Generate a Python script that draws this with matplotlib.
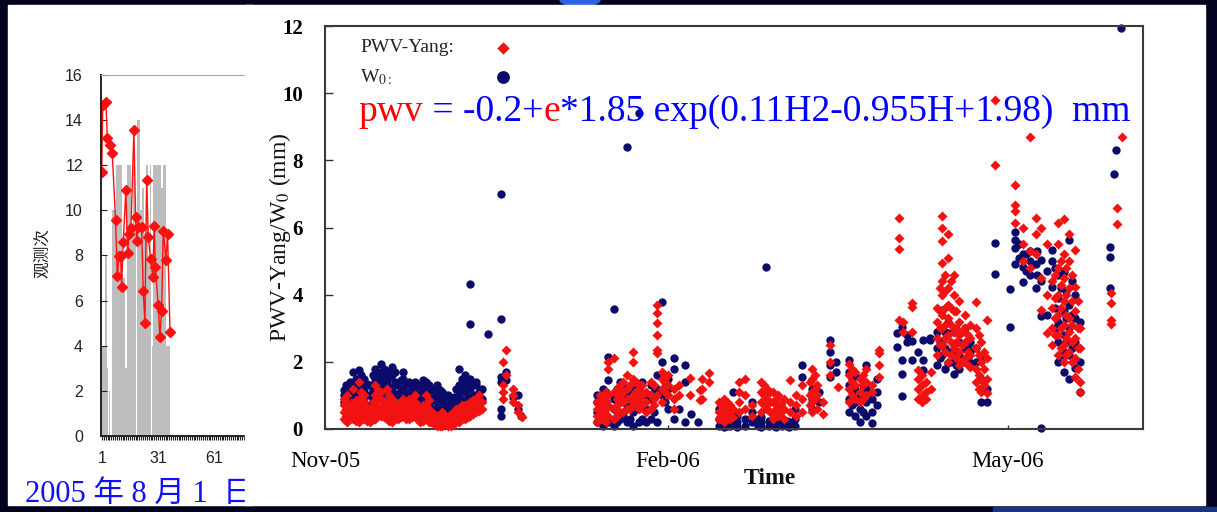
import matplotlib
matplotlib.use("Agg")
import matplotlib.pyplot as plt
from matplotlib.patches import Rectangle, Ellipse

plt.rcParams["mathtext.fontset"] = "stix"

# ---- left chart: daily observation counts + red series ----
obs_days = list(range(1, 38))
obs_counts = [4, 4, 8, 3, 2, 0, 10, 10, 12, 12, 12, 7, 7, 3, 12, 12, 9, 12, 9, 14,
              14, 10, 11, 9, 12, 8, 12, 4, 12, 12, 12, 12, 11, 12, 12, 4, 4]
red_days = [0.9, 1.4, 3.1, 3.9, 5.3, 6.5, 8.3, 9.2, 10.1, 11.0, 11.5, 12.4, 13.8, 14.7,
            15.6, 16.5, 18.1, 19.0, 19.5, 20.4, 22.2, 23.1, 24.0, 24.9, 25.8, 27.0,
            28.1, 29.0, 29.5, 31.1, 32.0, 32.9, 33.8, 35.2, 36.1, 37.4]
red_vals = [11.7, 14.65, 14.8, 13.2, 12.9, 12.55, 9.55, 7.1, 7.95, 7.95, 6.6, 8.6, 10.9,
            8.1, 8.95, 9.2, 13.55, 9.7, 8.65, 9.25, 9.25, 6.4, 5.0, 11.35, 8.8, 7.85,
            7.05, 9.3, 7.5, 5.8, 4.4, 5.55, 9.1, 7.8, 8.95, 4.6]
left_tick_labels = ["1", "31", "61", "91"]

# ---- right chart: {days since 1 Nov 2005: [mm, ...]} ----
w0_nov = {
    5: [0.8, 1.0, 1.15], 5.75: [0.9, 1.3], 6: [0.6, 0.9, 1.2], 6.75: [0.75, 1.05, 1.4],
    7.5: [0.7, 1.0, 1.3, 1.7], 8.25: [0.85, 1.15, 1.5], 9: [1.1, 1.45, 1.75],
    9.75: [0.95, 1.3, 1.6], 10.5: [0.8, 1.2, 1.5], 11.25: [1.0, 1.35], 12: [0.7, 1.0, 1.3],
    12.75: [0.85, 1.15, 1.6], 13.5: [0.9, 1.2, 1.5, 1.8], 14.25: [1.05, 1.4, 1.7],
    15: [1.0, 1.3, 1.6, 1.95], 15.75: [1.15, 1.5, 1.8], 16.5: [0.8, 1.1, 1.4, 1.7],
    17.25: [0.95, 1.25, 1.55], 18: [0.9, 1.2, 1.6, 1.85], 18.75: [1.05, 1.4, 1.7],
    19.5: [0.7, 1.0, 1.3], 20.25: [0.85, 1.15, 1.45], 21: [0.9, 1.2, 1.5, 1.7],
    21.75: [1.05, 1.35], 22.5: [0.8, 1.1, 1.4], 23.25: [0.95, 1.25], 24: [0.9, 1.2, 1.4],
    24.75: [0.8, 1.05, 1.3], 25.5: [0.7, 1.0, 1.3], 26.25: [0.85, 1.2, 1.45],
    27: [0.8, 1.1, 1.4], 27.75: [0.7, 1.0, 1.3], 28.5: [0.6, 0.9, 1.2],
    29.25: [0.6, 0.85, 1.1], 30: [0.5, 0.8, 1.0, 1.3], 30.75: [0.6, 0.9, 1.15],
    31.5: [0.5, 0.7, 0.9, 1.1], 32.25: [0.55, 0.8, 1.0], 33: [0.4, 0.6, 0.8, 1.0],
    33.75: [0.6, 0.85], 34.5: [0.5, 0.8, 0.95], 35.25: [0.65, 0.9, 1.2],
    36: [0.7, 1.0, 1.3, 1.8], 36.75: [0.85, 1.2, 1.5], 37.5: [0.8, 1.1, 1.4, 1.6],
    38.25: [0.95, 1.3], 39: [0.9, 1.2, 1.5, 3.13, 4.32], 39.75: [1.0, 1.35],
    40.5: [0.8, 1.0, 1.3, 1.4], 41.25: [0.7, 1.1], 42: [0.9, 1.2], 43.7: [2.83],
    47.3: [0.4, 0.6, 1.4, 1.55, 3.27, 7.0], 48.6: [1.7, 1.45], 50.5: [0.95],
    51.8: [0.6, 1.0], 52.5: [0.4],
}
yang_nov = {
    5: [0.3, 0.5, 0.7, 0.9], 5.75: [0.4, 0.6, 0.8], 6: [0.2, 0.4, 0.6, 0.8, 1.0],
    6.75: [0.3, 0.5, 0.7], 7.5: [0.3, 0.5, 0.7, 1.2], 8.25: [0.25, 0.45, 0.65, 0.85],
    9: [0.2, 0.4, 0.6, 0.9, 1.4], 9.75: [0.3, 0.5, 0.75, 1.1], 10.5: [0.3, 0.5, 0.8, 1.0],
    11.25: [0.25, 0.45, 0.65], 12: [0.2, 0.4, 0.6], 12.75: [0.3, 0.5, 0.8],
    13.5: [0.3, 0.5, 0.7, 1.0, 1.3], 14.25: [0.4, 0.6, 0.85, 1.15], 15: [0.4, 0.6, 0.9, 1.1],
    15.75: [0.35, 0.55, 0.75], 16.5: [0.3, 0.5, 0.8, 1.2], 17.25: [0.25, 0.45, 0.65, 1.0],
    18: [0.2, 0.4, 0.6, 0.9], 18.75: [0.3, 0.5, 0.75], 19.5: [0.3, 0.5, 0.7],
    20.25: [0.35, 0.6, 0.8], 21: [0.4, 0.6, 0.9], 21.75: [0.3, 0.5, 0.75],
    22.5: [0.3, 0.5, 0.7, 0.9], 23.25: [0.35, 0.55, 0.8], 24: [0.4, 0.6, 0.8, 1.0],
    24.75: [0.3, 0.5, 0.7], 25.5: [0.2, 0.4, 0.6], 26.25: [0.25, 0.45, 0.7],
    27: [0.3, 0.5, 0.7, 1.0], 27.75: [0.2, 0.4, 0.6, 0.85], 28.5: [0.2, 0.3, 0.5],
    29.25: [0.15, 0.3, 0.45], 30: [0.1, 0.2, 0.4], 30.75: [0.1, 0.25, 0.35],
    31.5: [0.1, 0.2, 0.3, 0.5], 32.25: [0.15, 0.25, 0.4], 33: [0.1, 0.2, 0.35],
    33.75: [0.1, 0.25, 0.45], 34.5: [0.15, 0.3, 0.5], 35.25: [0.2, 0.35, 0.6],
    36: [0.2, 0.4, 0.6], 36.75: [0.3, 0.5, 0.7], 37.5: [0.3, 0.5, 0.7],
    38.25: [0.35, 0.55, 0.75], 39: [0.4, 0.6, 0.8], 39.75: [0.45, 0.65, 0.85],
    40.5: [0.5, 0.7, 0.9], 41.25: [0.55, 0.75, 1.0], 42: [0.6, 0.8],
    47.8: [0.9, 1.1, 1.3, 2.0], 48.6: [1.6, 2.35], 50.5: [0.8, 1.0, 1.2],
    51.8: [0.5, 0.7], 52.8: [0.35],
}
w0_feb = {
    73: [0.2, 0.5, 0.8, 1.0], 73.75: [0.3, 0.6, 0.9], 74.5: [0.1, 0.4, 0.7, 1.2],
    75.25: [0.4, 0.8, 1.1], 76: [0.2, 1.45, 2.14], 77.6: [0.1, 0.6, 0.9, 3.57],
    78.25: [0.2, 0.5, 1.2], 79: [0.3, 0.8, 1.1, 1.4], 80: [0.4, 0.9, 1.3],
    80.9: [0.2, 0.7, 1.0, 8.4], 81.7: [0.3, 0.8, 1.1], 82.5: [0.1, 0.5, 0.9, 1.3],
    83.3: [0.6, 1.0], 84.2: [0.2, 0.8, 1.2, 9.4], 85: [0.3, 0.7, 1.4], 86: [0.2, 0.6, 1.0],
    87.5: [0.3, 0.9, 1.3], 88.2: [0.5, 1.1], 89: [0.2, 1.2, 1.6], 90.3: [1.0, 2.0, 3.77],
    91.2: [0.8, 1.4], 92: [0.6, 1.2, 1.5], 93.5: [0.3, 1.8, 2.1], 95: [0.6],
    96.5: [0.2, 1.4, 1.9], 98: [0.45], 100: [0.2],
}
yang_feb = {
    73: [0.2, 0.4, 0.6, 0.8], 73.75: [0.3, 0.5, 0.7, 1.0], 74.5: [0.3, 0.5, 0.9],
    75.25: [0.2, 0.6, 0.8, 1.1], 76: [0.4, 0.7, 1.0, 1.8, 2.0], 77.6: [0.3, 0.6, 1.1, 2.1],
    78.25: [0.4, 0.7, 0.9, 1.2], 79: [0.5, 0.8, 1.0, 1.3], 80: [0.5, 0.8, 1.1, 1.4],
    80.9: [0.6, 0.9, 1.2, 1.6], 81.7: [0.6, 0.9, 1.3], 82.5: [0.7, 1.0, 1.5, 2.0, 2.3],
    83.3: [0.8, 1.1, 1.4], 84.2: [0.6, 0.9, 1.2], 85: [0.7, 1.0, 1.3], 86: [0.5, 0.8, 1.1],
    87.5: [0.6, 1.0, 1.4], 88.2: [0.7, 0.9, 1.3],
    88.9: [1.0, 2.26, 2.35, 2.8, 3.15, 3.45, 3.69], 90.3: [0.8, 1.2, 1.5, 1.7],
    91.2: [1.1, 1.4, 1.6], 92: [1.0, 1.3, 1.6], 93.5: [0.6, 0.9, 1.2], 95: [1.0, 1.3],
    97.9: [1.0, 1.52], 100.5: [0.86, 1.16], 103: [1.4, 1.67],
}
w0_mar = {
    105.5: [0.1, 0.3, 0.6], 106.2: [0.2, 0.5], 107: [0.05, 0.2, 0.4, 0.75],
    107.8: [0.1, 0.3], 108.5: [0.1, 0.3, 0.5], 109.4: [1.1], 109.5: [0.15, 0.4],
    110.5: [0.05, 0.2, 0.4], 112.5: [0.1, 0.3], 114.5: [0.2, 0.5, 0.8], 116: [0.1, 0.3],
    117: [0.05, 0.2, 0.35], 118.2: [4.81], 119: [0.1, 0.25], 120.3: [0.1, 0.3],
    121: [0.05, 0.2, 0.4], 122.5: [0.1, 0.3], 123.8: [0.1, 0.25], 124.5: [0.05, 0.2],
    126: [0.1, 0.3, 0.6], 127.8: [1.55, 1.9], 130.5: [0.6, 0.9, 1.2], 132.5: [0.8, 1.1],
    135.5: [1.55, 1.9, 2.3, 2.65], 137: [1.7, 2.0], 140.5: [0.5, 0.9, 1.3, 1.7, 2.05],
    141.3: [0.7, 1.1, 1.5], 142: [0.4, 0.8, 1.2, 1.6], 143.5: [0.2, 0.6, 1.0],
    144.3: [0.5, 0.9, 1.3], 145: [0.4, 0.8, 1.2, 1.9], 146.6: [0.18, 0.5, 0.9],
    148: [0.7, 1.1, 1.5],
}
yang_mar = {
    101: [0.9, 1.2, 1.5], 105.5: [0.3, 0.5, 0.8], 106.2: [0.4, 0.7], 107: [0.2, 0.4, 0.6, 0.9],
    107.8: [0.3, 0.5, 0.8], 108.5: [0.3, 0.5, 0.7], 109.5: [0.35, 0.6],
    111: [0.5, 0.8, 1.1, 1.4], 112.5: [0.6, 1.0, 1.5], 114.5: [0.4, 0.7],
    117: [0.5, 0.8, 1.1, 1.4], 117.8: [0.7, 1.0, 1.3], 118.5: [0.6, 0.9, 1.2],
    119.3: [0.5, 0.8, 1.1], 120: [0.3, 0.5, 0.8, 1.1], 120.8: [0.4, 0.6, 0.9],
    121.5: [0.4, 0.7, 1.0], 122.3: [0.5, 0.75], 123: [0.3, 0.6, 0.9],
    124.7: [0.5, 0.8, 1.46], 126.3: [0.4, 0.7, 1.0], 128: [0.5, 0.9, 1.3],
    130: [0.7, 1.0, 1.4], 130.5: [0.5, 0.8, 1.1, 1.5, 1.8], 131.3: [0.9, 1.2, 1.6],
    132: [0.6, 1.0, 1.3], 133.5: [0.45, 0.8], 135.5: [1.6, 2.0, 2.5], 137.5: [1.25],
    140.5: [0.8, 1.2, 1.6, 1.95], 141.3: [1.0, 1.4, 1.8], 142: [0.9, 1.3, 1.7],
    143.5: [0.8, 1.1, 1.5], 144.3: [0.9, 1.3, 1.6], 145: [1.0, 1.4, 1.8],
    146.6: [1.1, 1.3], 148.5: [1.55, 1.9, 2.26, 2.35],
}
w0_apr = {
    153.3: [2.44, 2.86], 154.7: [0.98, 1.64, 2.05, 3.04], 156: [2.6, 2.8],
    157.4: [2.05, 2.62], 159: [2.3], 160.3: [1.76, 2.05, 2.65], 162.2: [2.65, 2.71],
    164: [1.9, 2.4, 2.9], 164.75: [2.1, 2.6], 165.5: [2.2, 2.6, 3.0, 3.54],
    166.25: [1.8, 2.4, 2.9], 167: [1.96, 2.3, 2.86, 3.2], 168.5: [1.64, 2.0, 2.5, 2.9],
    169.25: [1.9, 2.3], 170: [1.8, 2.2, 2.6], 171.5: [2.0, 2.4, 3.0], 172.25: [2.1, 2.5],
    173: [1.96, 2.3, 2.6], 174.5: [2.0, 2.4], 176: [0.8, 1.5, 2.1], 177.5: [0.8, 1.2],
}
yang_apr = {
    153.9: [3.24, 5.36, 5.68, 6.29], 155: [2.9, 3.18], 157.4: [2.89, 3.63, 3.75],
    159: [0.9, 1.2, 1.5, 1.76], 160: [0.8, 1.0, 1.3, 1.6], 161.2: [0.9, 1.1, 1.4],
    162.5: [1.2, 1.7], 164: [2.2, 2.7, 3.2, 3.6], 164.75: [2.5, 3.0, 3.5, 4.2],
    165.5: [2.5, 3.0, 3.4, 4.0, 4.4, 4.94, 5.6, 6.0, 6.34],
    166.25: [2.3, 2.7, 3.1, 3.6, 4.1, 4.6], 167: [2.0, 2.8, 3.3, 3.7, 4.2, 5.08, 5.8],
    167.75: [2.2, 2.6, 3.1, 3.6, 4.4], 168.5: [2.4, 2.9, 3.5, 4.0, 4.6],
    169.25: [2.1, 2.6, 3.0, 3.5], 170: [1.9, 2.3, 2.8, 3.2, 3.8], 170.75: [2.0, 2.5, 2.9],
    171.5: [2.1, 2.6, 3.0, 3.4], 172.25: [1.9, 2.3, 2.8], 173: [1.85, 2.2, 2.7, 3.1],
    174.5: [1.4, 1.8, 2.4, 3.0, 3.78], 175.25: [1.2, 1.6, 2.2, 2.8],
    176: [1.1, 1.5, 2.0, 2.6], 176.75: [1.3, 1.8, 2.3], 177.5: [1.07, 1.5, 2.1, 3.24],
}
w0_may = {
    179.6: [4.61, 5.54], 183.6: [3.04, 4.17], 185: [4.9, 5.39, 5.63, 5.86], 186: [5.1, 5.5],
    187: [4.38, 4.82, 5.2], 188: [4.7, 5.2], 189: [4.6, 5.0, 5.3], 190.5: [4.2, 4.9],
    191: [4.6, 5.3], 192: [0.03, 3.36, 4.4, 5.03], 193.5: [3.4, 4.7], 195: [4.23, 5.0, 5.33],
    195.75: [3.0, 3.6, 4.8], 196.5: [2.0, 2.6, 3.2, 3.9, 4.6], 197.25: [2.2, 3.1, 4.2],
    198: [1.7, 2.3, 2.8, 3.5, 4.67], 198.75: [2.6, 3.3, 4.1],
    199.5: [1.5, 2.2, 3.0, 3.69, 5.63], 200.25: [2.4, 3.4, 4.4], 201: [1.82, 2.6, 3.3, 4.0],
    202.5: [1.1, 2.0, 3.2], 210.5: [4.2, 5.12, 5.42], 211.5: [7.59], 212: [8.3],
    213.4: [11.93],
}
yang_may = {
    179.6: [7.86, 9.79], 185: [6.13, 6.49, 6.67, 7.26], 187: [5.0, 5.5, 6.0],
    188.9: [4.8, 5.3, 8.69], 190.5: [5.2, 5.8, 6.28], 192: [3.54, 4.5, 6.0],
    193.5: [2.86, 4.0, 5.5], 195: [2.5, 3.0, 3.6, 4.4], 195.75: [2.8, 3.3, 3.9, 4.6],
    196.5: [2.2, 2.8, 3.4, 4.0, 4.8, 5.5, 6.13], 197.25: [2.4, 3.0, 3.6, 4.3, 5.0],
    198: [2.0, 2.5, 3.1, 3.8, 4.5, 5.2, 6.25], 198.75: [2.2, 2.7, 3.4, 4.0, 4.8],
    199.5: [2.3, 2.9, 3.3, 4.2, 5.0, 5.8], 200.25: [2.0, 2.6, 3.1, 3.8, 4.6],
    201: [1.55, 2.1, 2.7, 3.5, 4.23, 5.33], 201.75: [1.8, 2.4, 3.0, 3.8],
    202.5: [1.1, 1.4, 2.4, 3.0], 210.8: [3.12, 3.24, 3.75, 4.06], 212.3: [6.1, 6.58],
    213.7: [8.69],
}
month_ticks = [0, 92, 183]
month_labels = ["Nov-05", "Feb-06", "May-06"]


def flatten(*groups):
    xs, ys = [], []
    for g in groups:
        for d, vals in g.items():
            xs += [d] * len(vals)
            ys += vals
    return xs, ys


W, H = 1217, 512
BG = "#03031f"
RED = "#f21212"
NAVY = "#0b0b6b"

fig = plt.figure(figsize=(W / 100, H / 100), dpi=100, facecolor=BG)


def fx(px):
    return px / W


def fy(py):
    return 1 - py / H


# slide decorations
fig.patches.append(Ellipse((fx(580), fy(0)), fx(40), 12 / H, transform=fig.transFigure,
                           color="#2f62e0", zorder=0.01))
fig.patches.append(Rectangle((fx(993), 0), fx(224), 5 / H, transform=fig.transFigure,
                             color="#1d3482", zorder=0.01))
# left white panel
fig.patches.append(Rectangle((fx(8), fy(505)), fx(245), 500 / H, transform=fig.transFigure,
                             color="white", zorder=0.1))

# ---- left chart ----
axl = fig.add_axes([fx(101), fy(436), fx(230), 361.3 / H])
axl.set_zorder(0.2)
axl.patch.set_alpha(0)
axl.bar(obs_days, obs_counts, width=0.95, color="#bdbdbd", linewidth=0, zorder=1)
axl.plot(red_days, red_vals, color="#ff1010", lw=1, marker="D", ms=5.5, zorder=2)
axl.set_xlim(0.5, 123.5)
axl.set_ylim(0, 16)
axl.set_yticks(range(0, 17, 2))
day_ticks = list(range(1, 124))
axl.set_xticks(day_ticks)
axl.set_xticklabels([str(d) if str(d) in left_tick_labels else "" for d in day_ticks])
axl.tick_params(axis="x", direction="out", length=3, width=0.8, pad=8, labelsize=11.5,
                color="#222222", labelcolor="#222222")
axl.tick_params(axis="y", direction="in", length=4, width=0.8, pad=13, labelsize=11.5,
                color="#222222", labelcolor="#222222")
for lab in axl.get_xticklabels() + axl.get_yticklabels():
    lab.set_fontfamily("Liberation Sans")
axl.spines["right"].set_visible(False)
axl.spines["top"].set_color("#a8a8a8")
axl.spines["left"].set_color("#222222")
axl.spines["bottom"].set_color("#222222")
axl.spines["left"].set_linewidth(1.4)
axl.spines["bottom"].set_linewidth(1.4)

t = fig.text(fx(43), fy(253), "观测次", rotation=90, ha="center", va="center",
             fontsize=12, family=["Noto Sans CJK SC", "DejaVu Sans"], color="#222222")
t.set_zorder(0.2)
t = fig.text(fx(25), fy(502), "2005 年 8 月 1  日", ha="left", va="baseline",
             fontsize=22, color="#1010ff",
             family=["Liberation Serif", "Noto Sans CJK SC"])
t.set_zorder(0.3)

# right white panel
fig.patches.append(Rectangle((fx(245), fy(505)), fx(960), 500 / H, transform=fig.transFigure,
                             color="white", zorder=0.4))

# ---- right chart ----
axr = fig.add_axes([fx(325), fy(429), fx(818), 403 / H])
axr.set_zorder(0.5)
axr.patch.set_alpha(0)
wx, wy = flatten(w0_nov, w0_feb, w0_mar, w0_apr, w0_may)
yx, yy = flatten(yang_nov, yang_feb, yang_mar, yang_apr, yang_may)
axr.scatter(wx, wy, s=36, marker="o", color=NAVY, linewidths=0, zorder=2, clip_on=False)
axr.scatter(yx, yy, s=26, marker="D", color=RED, linewidths=0, zorder=3, clip_on=False)
axr.set_xlim(0, 219.3)
axr.set_ylim(0, 12)
axr.set_yticks(range(0, 13, 2))
axr.set_xticks(month_ticks)
axr.set_xticklabels(month_labels)
axr.tick_params(axis="y", direction="in", length=6, width=1, pad=16, labelsize=15,
                color="#333333")
axr.tick_params(axis="x", direction="in", length=3, width=1, pad=16, labelsize=16.5,
                color="#333333")
for lab in axr.get_yticklabels():
    lab.set_fontfamily("Liberation Serif")
    lab.set_fontweight("bold")
for lab in axr.get_xticklabels():
    lab.set_fontfamily("Liberation Serif")
for sp in axr.spines.values():
    sp.set_color("#3a3a3a")
    sp.set_linewidth(1.5)

t = fig.text(fx(770), fy(478), "Time", ha="center", va="center", fontsize=17,
             fontweight="bold", family="Liberation Serif", color="#111111")
t.set_zorder(0.6)
t = fig.text(fx(280), fy(237), r"PWV-Yang/W$_0$ (mm)", rotation=90, ha="center",
             va="center", fontsize=17, family="Liberation Serif", color="#111111")
t.set_zorder(0.6)

# legend (text left, key right)
axr.text((360 - 325) / 818, (429 - 48) / 403, "PWV-Yang:", transform=axr.transAxes,
         ha="left", va="center", fontsize=14, family="Liberation Serif", color="#222222")
axr.text((360 - 325) / 818, (429 - 77) / 403, r"W$_\mathrm{0:}$",
         transform=axr.transAxes, ha="left", va="center", fontsize=14,
         family="Liberation Serif", color="#222222")
axr.scatter([(503 - 325) / 818], [(429 - 48) / 403], s=40, marker="D", color=RED,
            transform=axr.transAxes, linewidths=0, clip_on=False)
axr.scatter([(503 - 325) / 818], [(429 - 77) / 403], s=85, marker="o", color=NAVY,
            transform=axr.transAxes, linewidths=0, clip_on=False)

# equation in mixed colours
pieces = [("pwv", "#ff0000"), (" = -0.2+", "#0000ff"), ("e", "#ff0000"),
          ("*1.85 exp(0.11H2-0.955H+1.98)  mm", "#0000ff")]
txt = axr.text(fx(358), fy(121), pieces[0][0], transform=fig.transFigure, color=pieces[0][1],
               fontsize=27, family="Liberation Serif", va="baseline", zorder=5)
for s, c in pieces[1:]:
    txt = axr.annotate(s, xycoords=txt, xy=(1, 0), va="bottom", color=c, fontsize=27,
                       family="Liberation Serif", zorder=5, annotation_clip=False)

fig.savefig("out.png", dpi=100, facecolor=BG)
